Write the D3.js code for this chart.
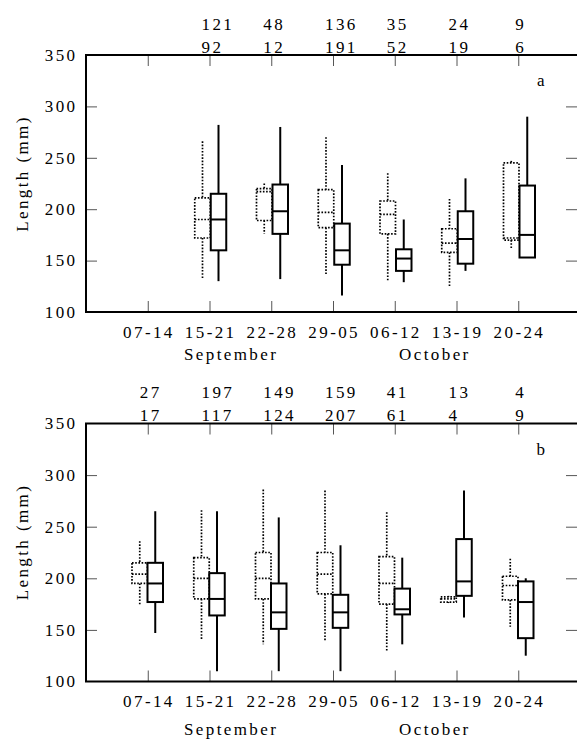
<!DOCTYPE html>
<html>
<head>
<meta charset="utf-8">
<script src="https://cdn.jsdelivr.net/npm/d3@7"></script>
<style>
html,body{margin:0;padding:0;background:#fff;}
svg{display:block;}
text{font-family:"Liberation Serif","Times New Roman",serif;font-size:17px;fill:#000;letter-spacing:2.4px;}
</style>
</head>
<body>
<svg id="chart" width="577" height="741"></svg>
<script>
// ---- data ----
const categories = ["07-14","15-21","22-28","29-05","06-12","13-19","20-24"];
const months = ["September","October"];
const yTicks = [100,150,200,250,300,350];

// counts shown above each panel (row 1, row 2)
const countsA1 = [null,121,48,136,35,24,9];
const countsA2 = [null,92,12,191,52,19,6];
const countsB1 = [27,197,149,159,41,13,4];
const countsB2 = [17,117,124,207,61,4,9];

// box stats: [min, q1, median, q3, max]
const dottedA = [
  null,
  [132,172,190,211,266],
  [176,189,217,220,225],
  [137,182,197,219,270],
  [130,176,195,208,235],
  [125,158,167,181,210],
  [162,170,172,245,247]
];
const solidA = [
  null,
  [130,160,190,215,282],
  [132,176,198,224,280],
  [116,146,160,186,243],
  [129,140,152,161,190],
  [140,147,171,198,230],
  [153,153,175,223,290]
];
const dottedB = [
  [174,195,204,215,236],
  [140,180,200,220,266],
  [136,180,200,225,286],
  [140,185,204,225,285],
  [130,175,195,221,264],
  [176,177,180,182,183],
  [153,179,193,202,219]
];
const solidB = [
  [147,177,195,215,265],
  [110,164,180,205,265],
  [110,151,167,195,259],
  [110,152,167,184,232],
  [136,165,170,190,220],
  [162,183,197,238,285],
  [125,142,177,197,200]
];

// ---- layout ----
const svg = d3.select("#chart");
const left = 86, right = 580;
const x = d3.scaleLinear().domain([0, categories.length + 1]).range([left, right]);

const panels = [
  {letter:"a", top:55, bottom:312, c1:countsA1, c2:countsA2, dotted:dottedA, solid:solidA,
   dOff:-7, sOff:9, tickLab:337.5, monthLab:359.5, row1:29.5, row2:52.5, letterY:85.5, yLabY:173.5},
  {letter:"b", top:423.5, bottom:681.5, c1:countsB1, c2:countsB2, dotted:dottedB, solid:solidB,
   dOff:-8, sOff:7.5, tickLab:707, monthLab:735, row1:397.5, row2:421, letterY:455, yLabY:542}
];
const monthX = [x(2.35), x(5.65)];
const boxW = 15.5;

panels.forEach(p => {
  const y = d3.scaleLinear().domain([100,350]).range([p.bottom, p.top]);
  const g = svg.append("g");

  // inner ticks on all sides via d3 axes
  const tickLen = 11;
  const xPos = categories.map((c,i)=>i+1);
  g.append("g").attr("transform",`translate(0,${p.bottom})`)
    .call(d3.axisTop(x).tickValues(xPos).tickSize(tickLen).tickFormat(""))
    .call(s=>{s.select(".domain").remove(); s.selectAll("line").attr("stroke","#555").attr("stroke-width",1);});
  g.append("g").attr("transform",`translate(0,${p.top})`)
    .call(d3.axisBottom(x).tickValues(xPos).tickSize(tickLen).tickFormat(""))
    .call(s=>{s.select(".domain").remove(); s.selectAll("line").attr("stroke","#555").attr("stroke-width",1);});
  g.append("g").attr("transform",`translate(${left},0)`)
    .call(d3.axisRight(y).tickValues(yTicks.slice(1,-1)).tickSize(tickLen).tickFormat(""))
    .call(s=>{s.select(".domain").remove(); s.selectAll("line").attr("stroke","#555").attr("stroke-width",1);});
  g.append("g").attr("transform",`translate(${right-3},0)`)
    .call(d3.axisLeft(y).tickValues(yTicks.slice(1,-1)).tickSize(tickLen).tickFormat(""))
    .call(s=>{s.select(".domain").remove(); s.selectAll("line").attr("stroke","#555").attr("stroke-width",1);});

  // frame
  g.append("path")
    .attr("d",`M${right},${p.top}H${left}V${p.bottom}H${right}`)
    .attr("fill","none").attr("stroke","#000").attr("stroke-width",2);

  // y tick labels
  g.selectAll("text.yl").data(yTicks).join("text")
    .attr("class","yl").attr("x",77.5).attr("y",d=>y(d)+5.8)
    .attr("text-anchor","end").text(d=>d);

  // y axis title
  g.append("text")
    .attr("transform",`translate(27.5,${p.yLabY}) rotate(-90)`)
    .attr("text-anchor","middle").text("Length (mm)");

  // x category labels
  g.selectAll("text.xl").data(categories).join("text")
    .attr("class","xl").attr("x",(d,i)=>x(i+1)+1.2).attr("y",p.tickLab)
    .attr("text-anchor","middle").text(d=>d);

  // months
  g.selectAll("text.ml").data(months).join("text")
    .attr("class","ml").attr("x",(d,i)=>monthX[i]).attr("y",p.monthLab)
    .attr("text-anchor","middle").text(d=>d);

  // counts
  const countText = (arr, yy) => {
    arr.forEach((v,i)=>{
      if (v == null) return;
      const single = String(p.c1[i]).length === 1 && String(p.c2[i]).length === 1;
      g.append("text")
        .attr("x", single ? x(i+1)+2.5 : x(i+1)-8)
        .attr("y", yy)
        .attr("text-anchor", single ? "middle" : "start")
        .text(v);
    });
  };
  countText(p.c1, p.row1);
  countText(p.c2, p.row2);

  // panel letter
  g.append("text").attr("x",542).attr("y",p.letterY).attr("text-anchor","middle").text(p.letter);

  // boxes
  const drawBox = (stats, off, dotted) => {
    stats.forEach((s,i)=>{
      if (!s) return;
      const cx = x(i+1) + off;
      const [mn,q1,md,q3,mx] = s;
      const bg = g.append("g")
        .attr("stroke","#000")
        .attr("stroke-width", dotted ? 1.7 : 2)
        .attr("stroke-dasharray", dotted ? "1.6,1.6" : null)
        .attr("fill","none");
      bg.append("line").attr("x1",cx).attr("x2",cx).attr("y1",y(mx)).attr("y2",y(q3));
      bg.append("line").attr("x1",cx).attr("x2",cx).attr("y1",y(q1)).attr("y2",y(mn));
      bg.append("rect").attr("x",cx-boxW/2).attr("width",boxW)
        .attr("y",y(q3)).attr("height",Math.max(0.5,y(q1)-y(q3)))
        .attr("fill", dotted ? "none" : "#fff");
      bg.append("line").attr("x1",cx-boxW/2).attr("x2",cx+boxW/2).attr("y1",y(md)).attr("y2",y(md));
    });
  };
  drawBox(p.dotted, p.dOff, true);
  drawBox(p.solid, p.sOff, false);
});
</script>
</body>
</html>
